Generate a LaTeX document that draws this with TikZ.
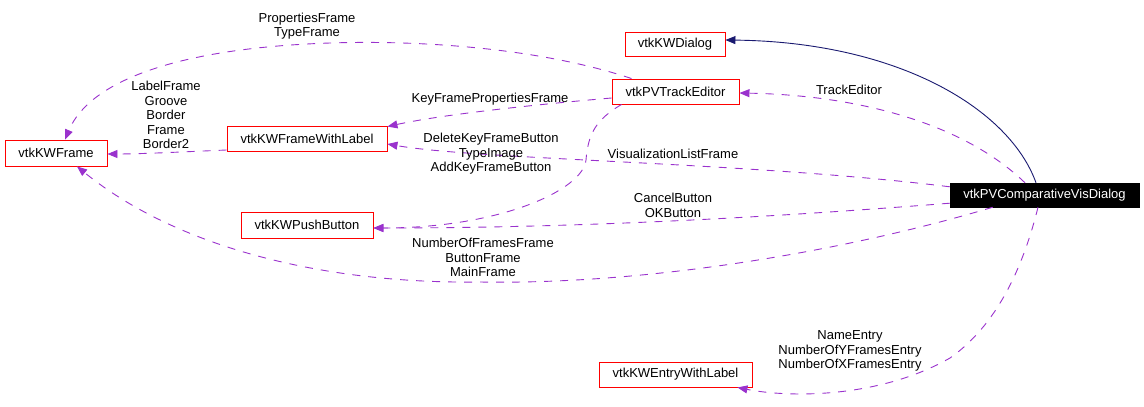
\documentclass[tikz,border=0pt]{standalone}
\usepackage{fontspec}
\setmainfont{Liberation Sans}
\usetikzlibrary{arrows.meta}
\definecolor{edgepurple}{HTML}{9A32CD}
\definecolor{edgenavy}{HTML}{191970}
\begin{document}
\begin{tikzpicture}[x=1pt,y=-1pt,
  every node/.style={font=\fontsize{13}{14.6}\selectfont},
  cls/.style={draw=red,line width=0.9pt,fill=white,inner sep=0pt,anchor=center},
  mainc/.style={draw=black,fill=black,text=white,inner sep=0pt,anchor=center},
  uses/.style={draw=edgepurple,line width=0.9pt,dash pattern=on 8pt off 8pt,
    -{Triangle[length=10pt,width=8pt,fill=edgepurple]}},
  inherit/.style={draw=edgenavy,line width=0.9pt,
    -{Triangle[length=10pt,width=8pt,fill=edgenavy]}},
  lbl/.style={align=center,inner sep=0pt}]
\useasboundingbox (0,0) rectangle (1144,407);

% nodes
\node[cls,minimum width=102pt,minimum height=26pt] (kwf) at (56,153) {vtkKWFrame};
\node[cls,minimum width=160pt,minimum height=25pt] (fwl) at (307,138.5) {vtkKWFrameWithLabel};
\node[cls,minimum width=100pt,minimum height=24pt] (kwd) at (675,44) {vtkKWDialog};
\node[cls,minimum width=127pt,minimum height=25pt] (te) at (675.5,91.5) {vtkPVTrackEditor};
\node[mainc,minimum width=189pt,minimum height=24pt] (cvd) at (1044.5,195) {vtkPVComparativeVisDialog};
\node[cls,minimum width=132pt,minimum height=26pt] (pb) at (307,225) {vtkKWPushButton};
\node[cls,minimum width=153pt,minimum height=25pt] (ewl) at (675.5,374.5) {vtkKWEntryWithLabel};

% inheritance
\draw[inherit] ([xshift=-8.5pt]cvd.north) .. controls (1010,110) and (900,42) .. ([yshift=4pt]kwd.east);

% usage edges
\draw[uses] ([xshift=-19.5pt]cvd.north) .. controls (960,120) and (850,95) .. ([yshift=-1.5pt]te.east);
\draw[uses] ([yshift=-4pt]cvd.north west) .. controls (750,162) and (480,160) .. ([yshift=-5.5pt]fwl.east);
\draw[uses] ([yshift=4pt]cvd.south west) .. controls (800,215) and (600,228) .. ([yshift=-3pt]pb.east);
\draw[uses] ([xshift=43pt]cvd.south west) .. controls (850,250) and (650,285) .. (480,282)
  .. controls (330,284) and (180,250) .. ([xshift=21pt]kwf.south);
\draw[uses] ([xshift=-6.5pt]cvd.south) .. controls (1020,280) and (990,330) .. (950,358)
  .. controls (880,398) and (790,398) .. ([xshift=-15pt]ewl.south east);

\draw[uses] ([yshift=-6.5pt]te.west) .. controls (530,105) and (440,115) .. ([yshift=-1pt]fwl.north east);
\draw[uses] ([xshift=10pt]te.south west) .. controls (595,120) and (588,135) .. (586,160)
  .. controls (583,190) and (500,228) .. ([yshift=-3pt]pb.east);
\draw[uses] ([xshift=20pt]te.north west) .. controls (540,48) and (420,40) .. (330,43)
  .. controls (180,48) and (90,80) .. ([xshift=9pt]kwf.north);

\draw[uses] ([yshift=-11.5pt]fwl.west) .. controls (180,152) and (140,154) .. ([yshift=-1pt]kwf.east);

% edge labels
\node[lbl] (l1) at (307,26) {PropertiesFrame\\TypeFrame};
\node[lbl] (l2) at (166,115) {LabelFrame\\Groove\\Border\\Frame\\Border2};
\node[lbl] (l3) at (490,99) {KeyFramePropertiesFrame};
\node[lbl] (l4) at (491,154) {DeleteKeyFrameButton\\TypeImage\\AddKeyFrameButton};
\node[lbl] (l5) at (849,90) {TrackEditor};
\node[lbl] (l6) at (673,154) {VisualizationListFrame};
\node[lbl] (l7) at (673,205.5) {CancelButton\\OKButton};
\node[lbl] (l8) at (483,257.5) {NumberOfFramesFrame\\ButtonFrame\\MainFrame};
\node[lbl] (l9) at (850,351) {NameEntry\\NumberOfYFramesEntry\\NumberOfXFramesEntry};
\end{tikzpicture}
\end{document}
